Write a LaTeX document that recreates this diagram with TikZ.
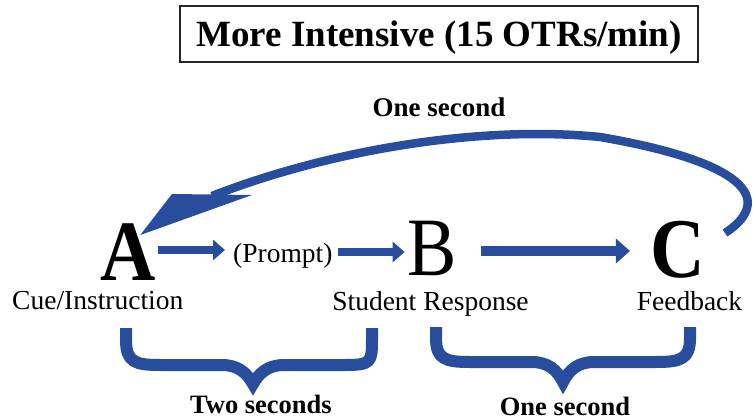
\documentclass[tikz,border=0pt]{standalone}
\usepackage{fontspec}
\setmainfont{Liberation Serif}
\usetikzlibrary{arrows.meta}
\definecolor{flowblue}{RGB}{40,77,156}

\begin{document}
\begin{tikzpicture}[x=1pt,y=-1pt,
  titlebox/.style={draw=black!85, line width=1.3pt, minimum width=518pt,
    minimum height=56pt, inner sep=0pt, text height=26pt, text depth=0pt,
    font=\fontsize{37}{40}\selectfont\bfseries},
  boldlabel/.style={font=\fontsize{27}{30}\selectfont\bfseries, anchor=base, inner sep=0pt},
  steplabel/.style={font=\fontsize{27.5}{30}\selectfont, anchor=base, inner sep=0pt},
  letter/.style={anchor=base, inner sep=1pt, text depth=0pt},
  flowarrow/.style={draw=flowblue, line width=8.5pt, -{Triangle[length=12pt,width=20pt]}},
  widearrow/.style={draw=flowblue, line width=10pt, -{Triangle[length=14pt,width=24pt]}},
  loopline/.style={draw=flowblue, line width=8.5pt, line cap=butt},
  bracestroke/.style={draw=flowblue, line width=12pt, line join=miter, line cap=butt},
]
\useasboundingbox (0,0) rectangle (753,420);

% title
\node[titlebox] (title) at (439,34) {More Intensive (15 OTRs/min)};

% the three steps
\node[letter, font=\fontsize{86}{90}\selectfont\bfseries] (A) at (128,280) {\scalebox{0.89}[1]{A}};
\node[letter, font=\fontsize{83}{88}\selectfont] (B) at (432.5,275) {\scalebox{0.89}[1]{B}};
\node[letter, font=\fontsize{85}{90}\selectfont\bfseries] (C) at (677.5,277) {\scalebox{0.89}[1]{C}};

\node[steplabel, anchor=base west] (cue) at (12,309) {Cue/Instruction};
\node[steplabel, anchor=base west] (prompt) at (233,262) {(Prompt)};
\node[steplabel] (resp) at (430.5,310) {Student Response};
\node[steplabel] (fb) at (689.5,310) {Feedback};

% time labels
\node[boldlabel] (looptime) at (439,117) {One second};
\node[boldlabel, font=\fontsize{26.5}{30}\selectfont\bfseries] (twosec) at (261,413) {Two seconds};
\node[boldlabel, font=\fontsize{26.5}{30}\selectfont\bfseries] (onesec) at (565,415) {One second};

% straight connectors
\draw[flowarrow, shorten <=1pt, shorten >=8pt] (A.east |- 0,250) -- (prompt.west |- 0,250);
\draw[flowarrow, shorten <=5pt, shorten >=2pt] (prompt.east |- 0,252) -- (B.west |- 0,252);
\draw[widearrow, shorten <=23pt, shorten >=19pt] (B.east |- 0,251) -- (C.west |- 0,251);

% return loop from C back to A
\coordinate (loopstart) at ([shift={(19,13.5)}]C.north east);
\coordinate (looptip) at ([shift={(-16.6,13)}]A.north east);
\draw[loopline] (loopstart) .. controls (768,205) and (762,165) .. (600,137)
  .. controls (480,125) and (330,150) .. (212,196);
\fill[flowblue] (looptip) -- (172,194) -- (252,195) -- cycle;

% braces under the steps
\draw[bracestroke] (126,328) -- (126,340) .. controls (126,362) and (135,365) .. (160,365)
  -- (222,365) .. controls (238,365) and (247,373) .. (253,384)
  .. controls (259,373) and (268,365) .. (284,365) -- (346,365)
  .. controls (371,365) and (372,362) .. (372,340) -- (372,328);
\draw[bracestroke] (436,327) -- (436,338) .. controls (436,359) and (445,362) .. (470,362)
  -- (532,362) .. controls (548,362) and (557,370) .. (563,382)
  .. controls (569,370) and (578,362) .. (594,362) -- (656,362)
  .. controls (681,362) and (690,359) .. (690,338) -- (690,327);
\end{tikzpicture}
\end{document}
